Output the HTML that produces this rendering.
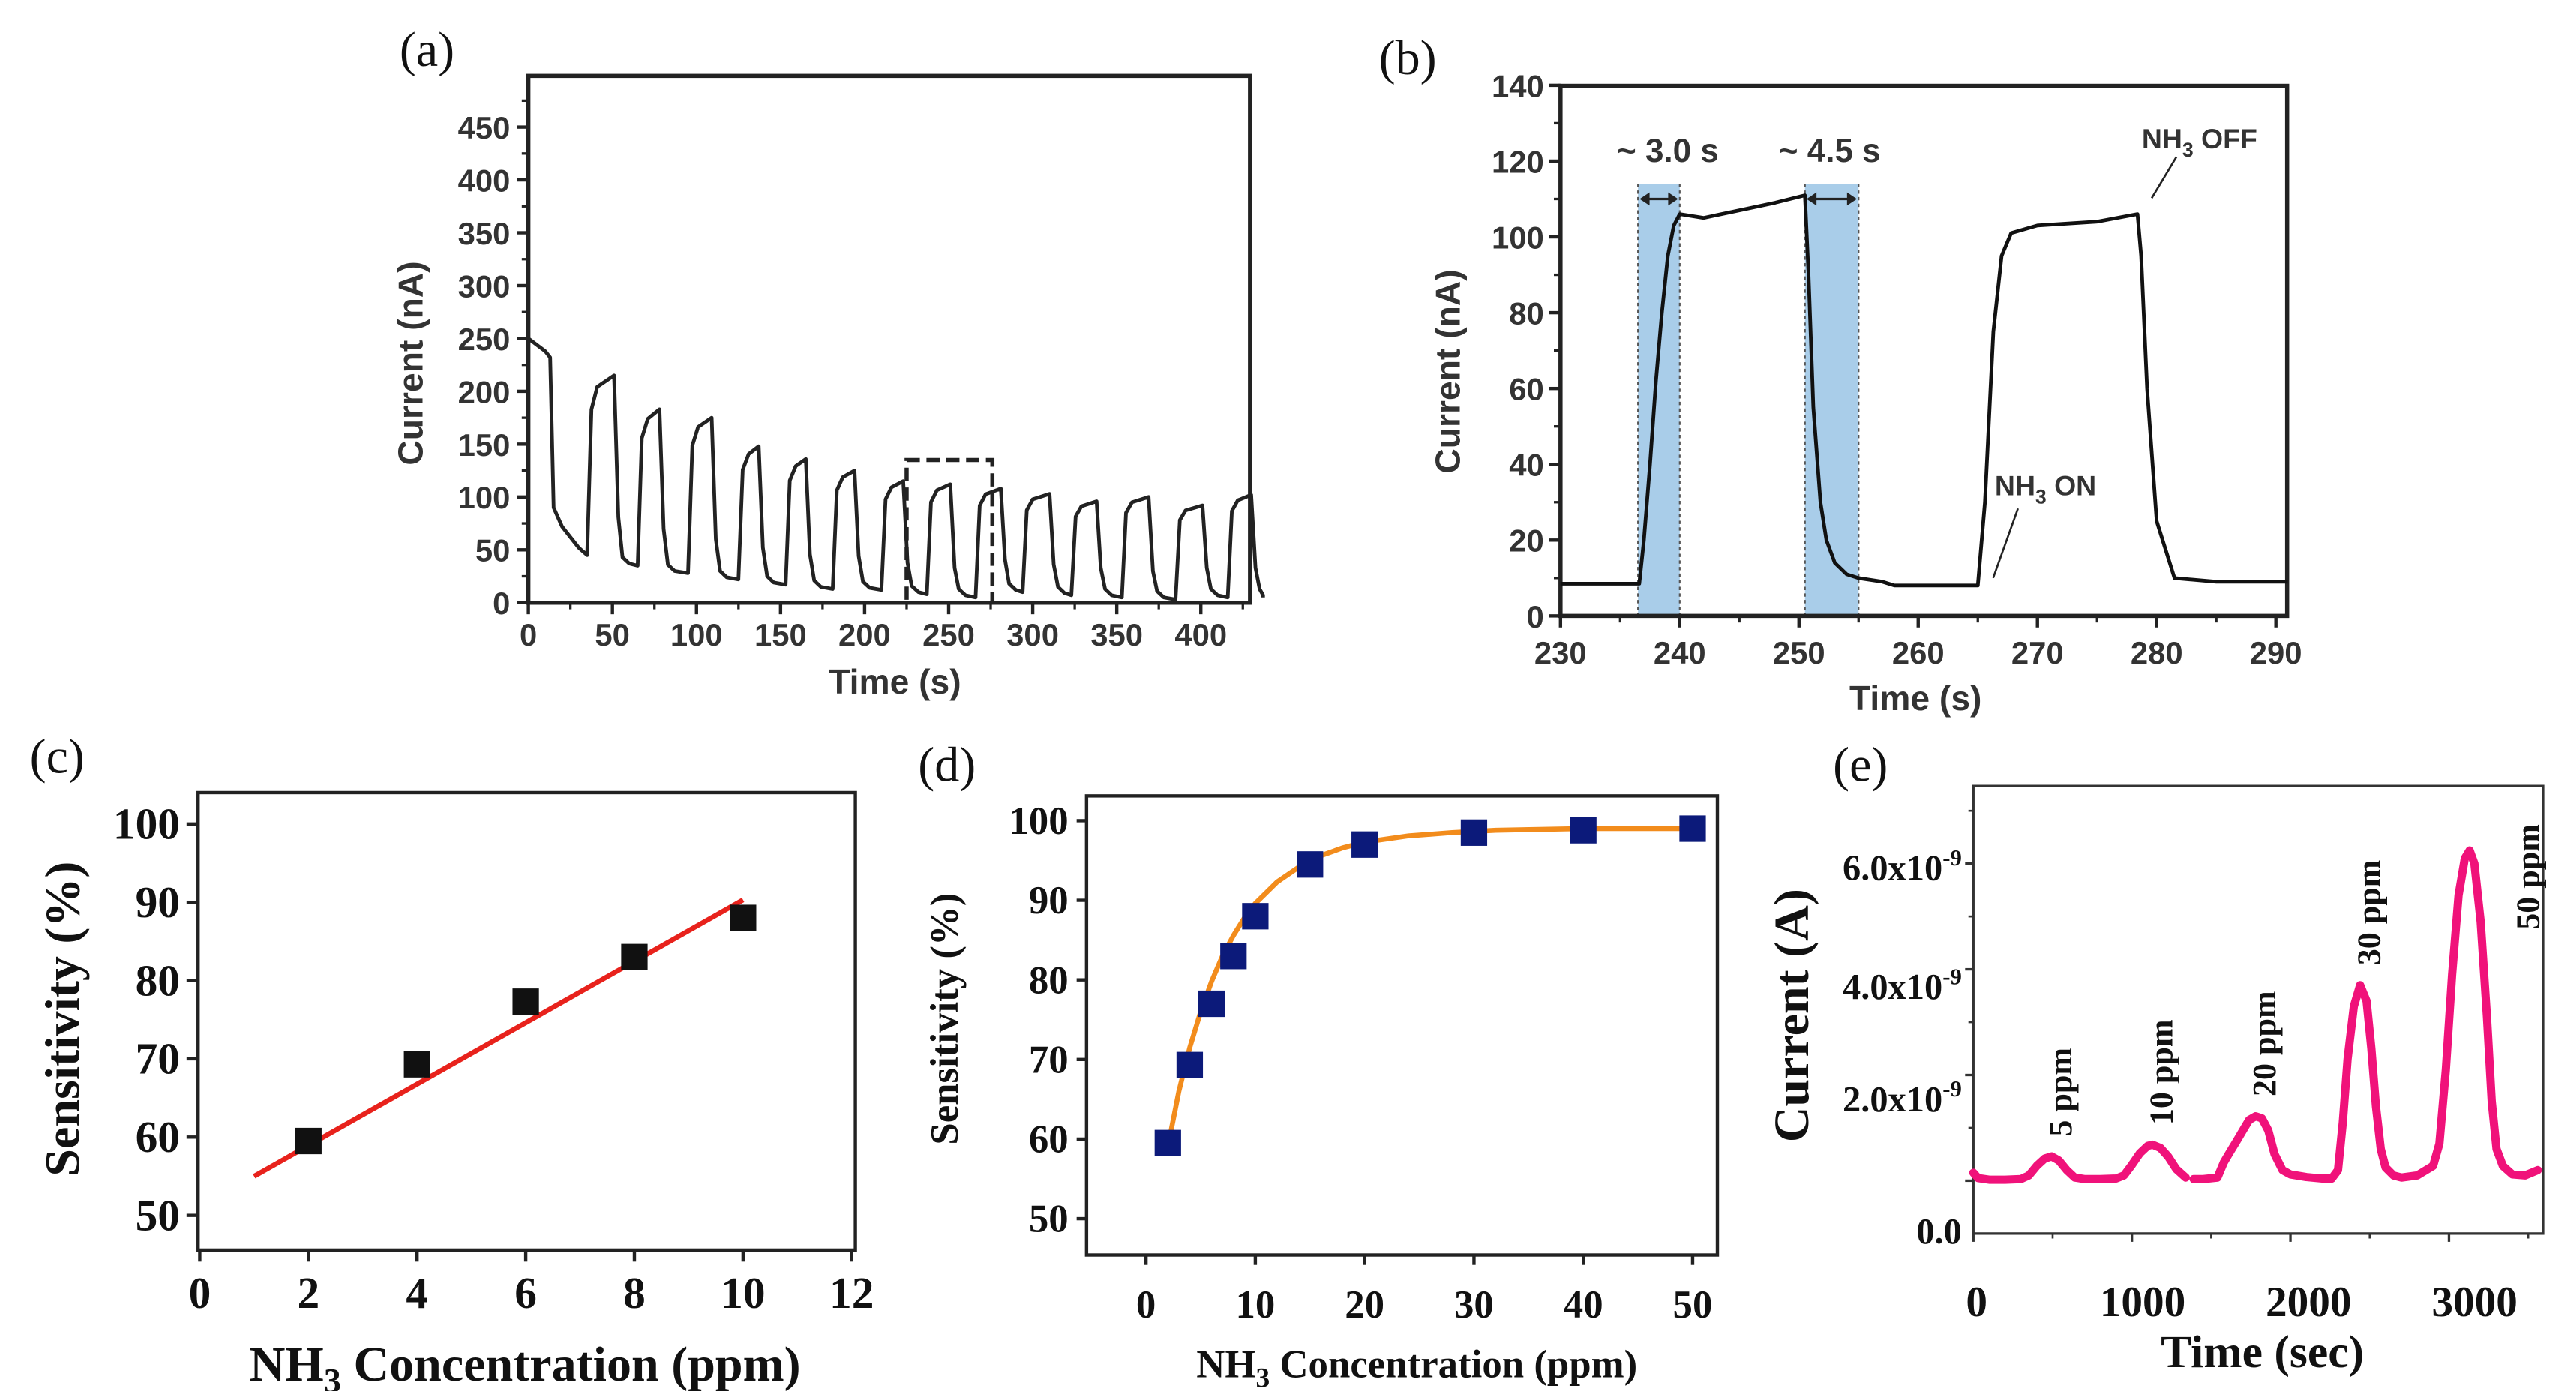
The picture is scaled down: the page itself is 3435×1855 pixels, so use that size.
<!DOCTYPE html>
<html><head><meta charset="utf-8"><style>
html,body{margin:0;padding:0;background:#fff;width:3435px;height:1855px;overflow:hidden}
svg{display:block}
.sans{font-family:"Liberation Sans",sans-serif;font-weight:bold;fill:#333}
.serif{font-family:"Liberation Serif",serif;font-weight:bold;fill:#111}
.lbl{font-family:"Liberation Serif",serif;fill:#111}
</style></head><body>
<svg id="fig" width="3435" height="1855" viewBox="0 0 1560 842.4" xmlns="http://www.w3.org/2000/svg">
<text class="lbl" x="242" y="40" font-size="30">(a)</text>
<text class="lbl" x="835" y="45" font-size="30">(b)</text>
<text class="lbl" x="18" y="468" font-size="30">(c)</text>
<text class="lbl" x="556" y="473" font-size="30">(d)</text>
<text class="lbl" x="1110" y="473" font-size="30">(e)</text>
</svg>
<script>
// ---- Panel (a) data ----
const aRiseT=[36,66,96,126,154,182,211,238,267,295,324,354,386,417];
const aFallT=[52,79,110,138,166,195,224,252,282,311,339,370,402,431];
const aPeak=[215,183,175,148,136,125,115,112,108,103,96,100,92,102];
const aBase=[45,35,28,22,17,13,12,8,5,10,7,5,3,5,5];
const aYTicks=[0,50,100,150,200,250,300,350,400,450];
const aXTicks=[0,50,100,150,200,250,300,350,400];
// ---- Panel (b) data ----
const bT=[230,236.6,237,237.5,238,238.5,239,239.5,240,242,245,248,250.5,250.8,251.2,251.8,252.3,253,254,255,257,258,265,265.6,266.3,267,267.8,270,275,278.4,278.7,279.2,280,281.5,285,291];
const bI=[8.5,8.5,20,40,62,80,95,103,106,105,107,109,111,90,55,30,20,14,11,10,9,8,8,30,75,95,101,103,104,106,95,60,25,10,9,9];
const bYTicks=[0,20,40,60,80,100,120,140];
const bXTicks=[230,240,250,260,270,280,290];
const bShade=[[236.5,240],[250.5,255]];
// ---- Panel (c) data ----
const cX=[2,4,6,8,10];
const cY=[59.5,69.3,77.3,83,88];
const cFitX=[1,10];
const cFitY=[55,90.3];
const cYTicks=[50,60,70,80,90,100];
const cXTicks=[0,2,4,6,8,10,12];
// ---- Panel (d) data ----
const dX=[2,4,6,8,10,15,20,30,40,50];
const dY=[59.5,69.3,77,83,88,94.5,97,98.5,98.8,99];
const dFitX=[2,3,4,5,6,7,8,9,10,12,14,16,18,20,24,28,32,36,40,45,50];
const dFitY=[59,66,71.5,76,79.8,83,85.6,87.8,89.6,92.3,94.2,95.6,96.6,97.3,98.1,98.5,98.8,98.9,99,99,99];
const dYTicks=[50,60,70,80,90,100];
const dXTicks=[0,10,20,30,40,50];
// ---- Panel (e) data (x1e-9 A) ----
const eT1=[0,30,100,200,300,350,400,450,494,540,590,640,700,800,900,950,1000,1050,1100,1130,1180,1230,1280,1340];
const eV1=[0.15,0.05,0.02,0.02,0.03,0.1,0.28,0.42,0.46,0.38,0.2,0.06,0.03,0.03,0.04,0.1,0.3,0.52,0.66,0.68,0.62,0.45,0.22,0.06];
const eT2=[1390,1450,1540,1580,1620,1660,1700,1740,1780,1820,1860,1900,1950,2000,2100,2200,2260,2300,2330,2360,2400,2440,2480,2510,2540,2570,2600,2650,2700,2800,2900,2940,2980,3020,3060,3100,3130,3160,3200,3240,3270,3300,3340,3400,3480,3560];
const eV2=[0.03,0.03,0.06,0.35,0.55,0.75,0.95,1.15,1.22,1.18,0.95,0.5,0.2,0.12,0.07,0.04,0.04,0.2,1.1,2.3,3.3,3.7,3.4,2.5,1.4,0.6,0.25,0.1,0.06,0.1,0.28,0.7,2.1,3.9,5.4,6.1,6.25,6.0,4.9,3.1,1.5,0.6,0.28,0.12,0.1,0.2];
const eYTicks=[0,2,4,6];
const eXTicks=[0,1000,2000,3000];
const ePeakT=[494,1130,1780,2440,3130];
const ePeakV=[0.46,0.68,1.22,3.7,6.25];
const eNames=["5 ppm","10 ppm","20 ppm","30 ppm","50 ppm"];

const svg=document.getElementById('fig');
const NS='http://www.w3.org/2000/svg';
function mk(tag,attrs,parent){const e=document.createElementNS(NS,tag);for(const k in attrs)e.setAttribute(k,attrs[k]);(parent||svg).appendChild(e);return e;}
function lin(d0,d1,p0,p1){return v=>p0+(v-d0)*(p1-p0)/(d1-d0);}
function txt(s,x,y,size,cls,anchor,rot){const t=mk('text',{x:x,y:y,'font-size':size,class:cls,'text-anchor':anchor||'middle'});if(rot)t.setAttribute('transform','rotate(-90 '+x+' '+y+')');t.textContent=s;return t;}

// ===== Panel (a) =====
(function(){
const g=mk('g',{});
const X=lin(0,50,320,370.9), Y=lin(0,50,365,333);
const r=mk('rect',{x:320,y:46,width:437,height:319,fill:'none',stroke:'#222','stroke-width':2.5},g);
aYTicks.forEach(v=>{mk('line',{x1:320,x2:313,y1:Y(v),y2:Y(v),stroke:'#222','stroke-width':2},g);const t=txt(String(v),309,Y(v)+7,19,'sans','end');g.appendChild(t);
 mk('line',{x1:320,x2:316,y1:Y(v+25),y2:Y(v+25),stroke:'#222','stroke-width':1.5},g);});
aXTicks.forEach(v=>{mk('line',{x1:X(v),x2:X(v),y1:365,y2:372,stroke:'#222','stroke-width':2},g);const t=txt(String(v),X(v),391,19,'sans');g.appendChild(t);
 if(v+25<437)mk('line',{x1:X(v+25),x2:X(v+25),y1:365,y2:369,stroke:'#222','stroke-width':1.5},g);});
let yt=txt('Current (nA)',256,220,21,'sans','middle',true);g.appendChild(yt);
let xt=txt('Time (s)',542,420,21,'sans');g.appendChild(xt);
let pts=[[0,250],[10,238],[13,232],[15,90],[20,72],[30,52]];
for(let i=0;i<aRiseT.length;i++){
 pts.push([aRiseT[i]-1,aBase[i]]);pts.push([aRiseT[i]+1.5,aPeak[i]*0.85]);pts.push([aRiseT[i]+5,aPeak[i]*0.95]);pts.push([aFallT[i]-1,aPeak[i]]);
 pts.push([aFallT[i]+1.5,aBase[i+1]*1.6+25]);pts.push([aFallT[i]+4,aBase[i+1]+8]);pts.push([Math.min(aFallT[i]+8,437),aBase[i+1]+2]);
}
pts.push([437,aBase[aBase.length-1]]);
const p=mk('path',{d:'M'+pts.map(q=>X(q[0]).toFixed(1)+','+Y(q[1]).toFixed(1)).join(' L'),fill:'none',stroke:'#222','stroke-width':2.2,'stroke-linejoin':'round'},g);

const b=mk('rect',{x:X(225),y:Y(135),width:X(276)-X(225),height:Y(0)-Y(135),fill:'none',stroke:'#222','stroke-width':2.5,'stroke-dasharray':'8,4'},g);

})();

// ===== Panel (b) =====
(function(){
const g=mk('g',{});
const X=lin(230,240,945,1017.2), Y=lin(0,20,373,327.1);
bShade.forEach(s=>{const r=mk('rect',{x:X(s[0]),y:Y(114),width:X(s[1])-X(s[0]),height:Y(0)-Y(114),fill:'#a9cde9'},g);
 [s[0],s[1]].forEach(v=>mk('line',{x1:X(v),x2:X(v),y1:Y(114),y2:Y(0),stroke:'#555','stroke-width':1,'stroke-dasharray':'2,2'},g));
 mk('line',{x1:X(s[0])+2,x2:X(s[1])-2,y1:Y(110),y2:Y(110),stroke:'#222','stroke-width':1.5},g);
 mk('path',{d:`M${X(s[0])+1},${Y(110)} l6,-4 v8 z M${X(s[1])-1},${Y(110)} l-6,-4 v8 z`,fill:'#222'},g);});
const r=mk('rect',{x:945,y:52,width:440,height:321,fill:'none',stroke:'#222','stroke-width':2.5},g);
bYTicks.forEach(v=>{mk('line',{x1:945,x2:938,y1:Y(v),y2:Y(v),stroke:'#222','stroke-width':2},g);if(v+10<140)mk('line',{x1:945,x2:941,y1:Y(v+10),y2:Y(v+10),stroke:'#222','stroke-width':1.5},g);const t=txt(String(v),935,Y(v)+7,19,'sans','end');g.appendChild(t);});
bXTicks.forEach(v=>{mk('line',{x1:X(v),x2:X(v),y1:373,y2:380,stroke:'#222','stroke-width':2},g);if(v+5<291)mk('line',{x1:X(v+5),x2:X(v+5),y1:373,y2:377,stroke:'#222','stroke-width':1.5},g);const t=txt(String(v),X(v),402,19,'sans');g.appendChild(t);});
let yt=txt('Current (nA)',884,225,21,'sans','middle',true);g.appendChild(yt);
let xt=txt('Time (s)',1160,430,21,'sans');g.appendChild(xt);
const p=mk('path',{d:'M'+bT.map((t,i)=>X(t).toFixed(1)+','+Y(bI[i]).toFixed(1)).join(' L'),fill:'none',stroke:'#111','stroke-width':2.2,'stroke-linejoin':'round'},g);

let a1=txt('~ 3.0 s',1010,98,20,'sans');g.appendChild(a1);
let a2=txt('~ 4.5 s',1108,98,20,'sans');g.appendChild(a2);
const off=mk('text',{x:1297,y:90,'font-size':17,class:'sans'},g);off.innerHTML='NH<tspan font-size="12" dy="5">3</tspan><tspan dy="-5"> OFF</tspan>';
mk('line',{x1:1318,y1:95,x2:1303,y2:120,stroke:'#222','stroke-width':1.2},g);
const on=mk('text',{x:1208,y:300,'font-size':17,class:'sans'},g);on.innerHTML='NH<tspan font-size="12" dy="5">3</tspan><tspan dy="-5"> ON</tspan>';
mk('line',{x1:1222,y1:308,x2:1207,y2:350,stroke:'#222','stroke-width':1.2},g);
})();

// ===== Panel (c) =====
(function(){
const g=mk('g',{});
const X=lin(0,2,121,186.8), Y=lin(50,100,736,499);
const r=mk('rect',{x:120,y:480,width:398,height:277,fill:'none',stroke:'#222','stroke-width':2},g);
cYTicks.forEach(v=>{mk('line',{x1:120,x2:113,y1:Y(v),y2:Y(v),stroke:'#222','stroke-width':2},g);const t=txt(String(v),109,Y(v)+9,27,'serif','end');g.appendChild(t);});
cXTicks.forEach(v=>{mk('line',{x1:X(v),x2:X(v),y1:757,y2:764,stroke:'#222','stroke-width':2},g);const t=txt(String(v),X(v),792,27,'serif');g.appendChild(t);});
let yt=txt('Sensitivity (%)',48,617,30,'serif','middle',true);g.appendChild(yt);
const xt=mk('text',{x:318,y:836,'font-size':30,class:'serif','text-anchor':'middle'},g);xt.innerHTML='NH<tspan font-size="21" dy="7">3</tspan><tspan dy="-7"> Concentration (ppm)</tspan>';
const f=mk('line',{x1:X(cFitX[0]),y1:Y(cFitY[0]),x2:X(cFitX[1]),y2:Y(cFitY[1]),stroke:'#e8221c','stroke-width':3},g);
cX.forEach((x,i)=>{const s=mk('rect',{x:X(x)-8,y:Y(cY[i])-8,width:16,height:16,fill:'#111'},g);});
})();

// ===== Panel (d) =====
(function(){
const g=mk('g',{});
const X=lin(0,10,694,760.2), Y=lin(50,100,738,497);
const r=mk('rect',{x:658,y:482,width:382,height:278,fill:'none',stroke:'#222','stroke-width':2},g);
dYTicks.forEach(v=>{mk('line',{x1:658,x2:652,y1:Y(v),y2:Y(v),stroke:'#222','stroke-width':2},g);const t=txt(String(v),647,Y(v)+8,24,'serif','end');g.appendChild(t);});
dXTicks.forEach(v=>{mk('line',{x1:X(v),x2:X(v),y1:760,y2:766,stroke:'#222','stroke-width':2},g);const t=txt(String(v),X(v),798,24,'serif');g.appendChild(t);});
let yt=txt('Sensitivity (%)',580,617,24,'serif','middle',true);g.appendChild(yt);
const xt=mk('text',{x:858,y:834,'font-size':24,class:'serif','text-anchor':'middle'},g);xt.innerHTML='NH<tspan font-size="17" dy="6">3</tspan><tspan dy="-6"> Concentration (ppm)</tspan>';
const f=mk('path',{d:'M'+dFitX.map((x,i)=>X(x).toFixed(1)+','+Y(dFitY[i]).toFixed(1)).join(' L'),fill:'none',stroke:'#f28c1c','stroke-width':3},g);
dX.forEach((x,i)=>{const s=mk('rect',{x:X(x)-8,y:Y(dY[i])-8,width:16,height:16,fill:'#0c1a7a'},g);});
})();

// ===== Panel (e) =====
(function(){
const g=mk('g',{});
const X=lin(0,1000,1195,1291), Y=lin(0,2,715,651);
const LX=lin(0,1000,1197,1297.5);
const r=mk('rect',{x:1195,y:476,width:345,height:271,fill:'none',stroke:'#333','stroke-width':1.5},g);
eYTicks.forEach(v=>{mk('line',{x1:1195,x2:1190,y1:Y(v),y2:Y(v),stroke:'#333','stroke-width':1.5},g);mk('line',{x1:1195,x2:1192,y1:Y(v+1),y2:Y(v+1),stroke:'#333','stroke-width':1.2},g);
 const t=mk('text',{x:1188,y:(v===0?753:(v===2?673:(v===4?605:533))),'font-size':22,class:'serif','text-anchor':'end'},g);
 t.innerHTML=v===0?'0.0':v.toFixed(1)+'x10<tspan font-size="14" dy="-9">-9</tspan>';});
eXTicks.forEach(v=>{mk('line',{x1:X(v),x2:X(v),y1:747,y2:752,stroke:'#333','stroke-width':1.5},g);mk('line',{x1:X(v+500),x2:X(v+500),y1:747,y2:750,stroke:'#333','stroke-width':1.2},g);
 const t=txt(String(v),LX(v),797,26,'serif');g.appendChild(t);});
let yt=txt('Current (A)',1095,615,30,'serif','middle',true);g.appendChild(yt);
let xt=txt('Time (sec)',1370,828,28,'serif');g.appendChild(xt);
[[eT1,eV1],[eT2,eV2]].forEach(s=>{const p=mk('path',{d:'M'+s[0].map((t,i)=>X(t).toFixed(1)+','+Y(s[1][i]).toFixed(1)).join(' L'),fill:'none',stroke:'#f0127a','stroke-width':5,'stroke-linejoin':'round','stroke-linecap':'round'},g);});
ePeakT.forEach((t,i)=>{let x=X(t)+12, y=Y(ePeakV[i])-12;if(i===4){x=X(t)+42;y=Y(ePeakV[i])+48;}
 const l=txt(eNames[i],x,y,20,'serif','start',true);g.appendChild(l);});
})();
</script>
</body></html>
